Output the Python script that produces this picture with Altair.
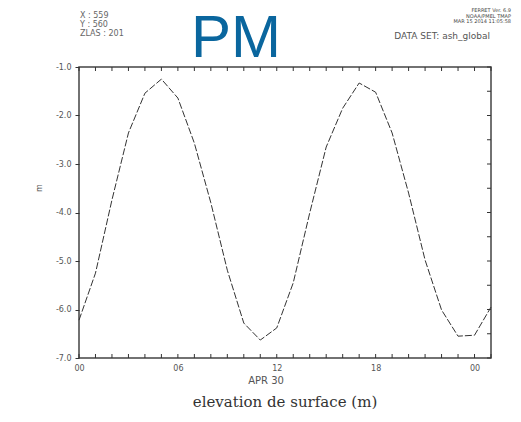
import altair as alt
import pandas as pd

# hourly surface elevation (m)
hours = list(range(0, 26))
elevation = [-6.22, -5.25, -3.74, -2.36, -1.54, -1.25, -1.64, -2.57, -3.80, -5.19,
             -6.28, -6.63, -6.38, -5.45, -4.01, -2.65, -1.85, -1.33, -1.52, -2.36,
             -3.60, -4.98, -6.01, -6.55, -6.53, -5.95]
x_label_values = [0, 6, 12, 18, 24]
x_labels = ["00", "06", "12", "18", "00"]
y_tick_values = [-7.0, -6.5, -6.0, -5.5, -5.0, -4.5, -4.0, -3.5, -3.0, -2.5, -2.0, -1.5, -1.0]

W, H = 412, 291

df = pd.DataFrame({"h": hours, "v": elevation})
hdf = pd.DataFrame({"h": hours})
ydf = pd.DataFrame({"v": y_tick_values})

xs = alt.Scale(domain=[0, 25], nice=False, zero=False)
ys = alt.Scale(domain=[-7, -1], nice=False, zero=False)

label_expr_x = "[" + ",".join("'" + s + "'" for s in x_labels) + "][datum.value/6]"

line = alt.Chart(df).mark_line(color="#333333", strokeWidth=1, strokeDash=[7, 2]).encode(
    x=alt.X("h:Q", scale=xs,
            axis=alt.Axis(values=x_label_values, labelExpr=label_expr_x, title=None,
                          domain=False, grid=False, tickSize=0, labelPadding=6,
                          labelFlush=False,
                          labelFontSize=8, labelColor="#555", labelFont="DejaVu Sans")),
    y=alt.Y("v:Q", scale=ys,
            axis=alt.Axis(values=y_tick_values,
                          labelExpr="datum.value % 1 == 0 ? '-' + format(-datum.value, '.1f') : ''",
                          title=None, domain=False, grid=False, tickSize=4, tickColor="#333",
                          labelFlush=False,
                          labelPadding=4, labelFontSize=8, labelColor="#555",
                          labelFont="DejaVu Sans")),
)

top_ticks = alt.Chart(hdf).mark_rule(color="#333", strokeWidth=1).encode(
    x=alt.X("h:Q", scale=xs), y=alt.value(0), y2=alt.value(4))
bot_ticks = alt.Chart(hdf).mark_rule(color="#333", strokeWidth=1).encode(
    x=alt.X("h:Q", scale=xs), y=alt.value(H), y2=alt.value(H - 4))
right_ticks = alt.Chart(ydf).mark_rule(color="#333", strokeWidth=1).encode(
    y=alt.Y("v:Q", scale=ys), x=alt.value(W), x2=alt.value(W - 4))


def txt(text, x, y, size, **kw):
    return alt.Chart(pd.DataFrame({"t": [text]})).mark_text(fontSize=size, **kw).encode(
        text="t:N", x=alt.value(x), y=alt.value(y))


texts = [
    txt("PM", 157, -10, 60, font="Liberation Sans", color="#0a669e", align="center", baseline="alphabetic"),
    txt("X : 559", 1, -49, 8, font="DejaVu Sans", color="#666", align="left", baseline="alphabetic"),
    txt("Y : 560", 1, -40, 8, font="DejaVu Sans", color="#666", align="left", baseline="alphabetic"),
    txt("ZLAS :  201", 1, -31, 8, font="DejaVu Sans", color="#666", align="left", baseline="alphabetic"),
    txt("FERRET Ver. 6.9", 432, -55, 5, font="DejaVu Sans", color="#444", align="right", baseline="alphabetic"),
    txt("NOAA/PMEL TMAP", 432, -49.5, 5, font="DejaVu Sans", color="#444", align="right", baseline="alphabetic"),
    txt("MAR 15 2014 11:05:58", 432, -44, 5, font="DejaVu Sans", color="#444", align="right", baseline="alphabetic"),
    txt("DATA SET: ash_global", 411, -28, 9, font="DejaVu Sans", color="#555", align="right", baseline="alphabetic"),
    txt("APR 30", 187, 317, 10, font="DejaVu Sans", color="#555", align="center", baseline="alphabetic"),
    txt("elevation de surface (m)", 206, 340, 15, font="DejaVu Serif", color="#333", align="center", baseline="alphabetic"),
    txt("m", -39, 121, 8, font="DejaVu Sans", color="#555", align="center", baseline="middle", angle=270),
]

chart = alt.layer(line, top_ticks, bot_ticks, right_ticks, *texts).properties(
    width=W, height=H,
    autosize=alt.AutoSizeParams(type="none"),
    padding={"left": 71, "top": 59, "right": 22, "bottom": 56},
    background="white",
).configure_view(stroke="#444", strokeWidth=1.5)

chart.save("out.html", embed_options={"renderer": "svg", "actions": False})
